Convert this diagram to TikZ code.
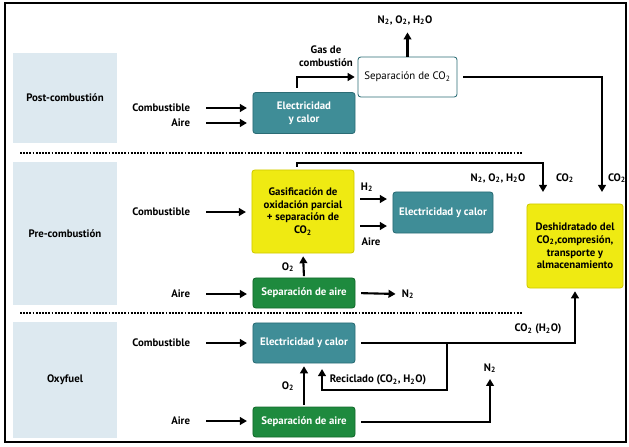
\documentclass[tikz,border=0pt]{standalone}
\usepackage{fontspec}
\setmainfont{PT Sans}
\usetikzlibrary{arrows.meta, positioning}
\definecolor{tealbox}{HTML}{3F8D97}
\definecolor{tealdark}{HTML}{2B6C75}
\definecolor{greenbox}{HTML}{1E8A3E}
\definecolor{greendark}{HTML}{146A2C}
\definecolor{yellowbox}{HTML}{EFEA12}
\definecolor{yellowdark}{HTML}{CFC900}
\definecolor{zonablue}{HTML}{DDE9F0}
\newcommand{\dos}{\textsubscript{2}}
\newcommand{\tam}{\fontsize{7.7}{9}\selectfont}

\begin{document}
\begin{tikzpicture}[x=0.025cm, y=-0.025cm, font=\tam\bfseries,
        arr/.style={-{Triangle[length=5pt,width=5.5pt]}, line width=1.5pt},
        zona/.style={fill=zonablue, minimum width=2.6cm, inner sep=0pt},
        caja/.style={draw, rounded corners=2pt, align=center, inner sep=1pt, line width=0.6pt},
        tealcaja/.style={caja, fill=tealbox, draw=tealdark, text=white},
        greencaja/.style={caja, fill=greenbox, draw=greendark, text=white},
        yellowcaja/.style={caja, fill=yellowbox, draw=yellowdark},
        puntos/.style={line width=1.6pt, dash pattern=on 1.3pt off 0.95pt},
      ]
        \useasboundingbox (0,0) rectangle (629,446);
        \draw[line width=1.5pt] (5,3) rectangle (626,442);

        % zonas
        \node[zona, minimum height=2.25cm] (zpost) at (65,98) {Post-combustión};
        \node[zona, minimum height=3.575cm] (zpre) at (65,233.5) {Pre-combustión};
        \node[zona, minimum height=2.875cm] (zoxy) at (65,380) {Oxyfuel};

        \draw[puntos] (20,153) -- (522,153);
        \draw[puntos] (20,313) -- (522,313);

        % Post-combustion
        \node[tealcaja, minimum width=2.55cm, minimum height=1.025cm] (elecA) at (304,113) {Electricidad\\y calor};
        \node[caja, fill=white, draw=tealdark, font=\tam, minimum width=2.475cm, minimum height=1cm] (sepco) at (407.5,77) {Separación de CO\dos};
        \node (outA) at (405,20) {N\dos, O\dos, H\dos O};
        \node[align=center] (gasA) at (326,56) {Gas de\\combustión};
        \node[anchor=east] (cbA) at (195,108) {Combustible};
        \node[anchor=east] (aiA) at (195,123) {Aire};
        \coordinate (gasB) at (297,88);
        \coordinate (co2R) at (602,192);
        \node (co2Rl) at (617,178) {CO\dos};

        \draw[arr, shorten <=8pt, shorten >=4pt] (cbA.east) -- (cbA.east -| elecA.west);
        \draw[arr, shorten <=8pt, shorten >=4pt] (aiA.east) -- (aiA.east -| elecA.west);
        \draw[arr, shorten <=3pt, shorten >=2pt] (elecA.north -| gasB) |- (sepco.west);
        \draw[arr, shorten >=2pt] (sepco.north) -- (sepco.north |- outA.south);
        \draw[arr, shorten <=4pt] (sepco.east) -| (co2R);

        % Pre-combustion
        \node[yellowcaja, minimum width=2.55cm, minimum height=2.075cm] (gasif) at (303,211.5) {Gasificación de\\oxidación parcial\\+ separación de\\CO\dos};
        \node[tealcaja, minimum width=2.5cm, minimum height=1.025cm] (elecB) at (443,212.5) {Electricidad y calor};
        \node[greencaja, minimum width=2.55cm, minimum height=0.75cm] (aireB) at (304,293) {Separación de aire};
        \node[yellowcaja, minimum width=2.4cm, minimum height=2.1cm] (deshid) at (575,246) {Deshidratado del\\CO\dos,compresión,\\transporte y\\almacenamiento};
        \node[anchor=east] (cbB) at (195,212) {Combustible};
        \node[anchor=east] (aiB) at (195,294) {Aire};
        \node (h2) at (367,187) {H\dos};
        \node (aiH) at (371,242) {Aire};
        \node (o2B) at (288,267) {O\dos};
        \node (n2B) at (408,294) {N\dos};
        \node (outB) at (498,178) {N\dos, O\dos, H\dos O};
        \node (co2Ml) at (565,178) {CO\dos};
        \coordinate (preTop) at (297,163);
        \coordinate (co2M) at (543,192);
        \coordinate (h2y) at (374,199);
        \coordinate (aiy) at (374,226);

        \draw[arr, shorten <=8pt, shorten >=4pt] (cbB.east) -- (cbB.east -| gasif.west);
        \draw[arr, shorten <=8pt, shorten >=4pt] (aiB.east) -- (aiB.east -| aireB.west);
        \draw[arr, shorten <=2pt] (gasif.north -| preTop) -- (preTop) -| (co2M);
        \draw[arr, shorten <=4pt, shorten >=4pt] (gasif.east |- h2y) -- (elecB.west |- h2y);
        \draw[arr, shorten <=4pt, shorten >=4pt] (gasif.east |- aiy) -- (elecB.west |- aiy);
        \draw[arr, shorten <=1pt, shorten >=2pt] (aireB.north) -- (gasif.south);
        \draw[arr, shorten <=4pt, shorten >=1pt] (aireB.east) -- (n2B.west);

        % Oxyfuel
        \node[tealcaja, minimum width=2.55cm, minimum height=1cm] (elecC) at (304,343) {Electricidad y calor};
        \node[greencaja, minimum width=2.55cm, minimum height=0.75cm] (aireC) at (304,422) {Separación de aire};
        \node[anchor=east] (cbC) at (195,343) {Combustible};
        \node[anchor=east] (aiC) at (195,421) {Aire};
        \node (o2C) at (288,386) {O\dos};
        \node (n2C) at (490,368) {N\dos};
        \node (co2C) at (538,329) {CO\dos\ (H\dos O)};
        \node (recl) at (378,380) {Reciclado (CO\dos, H\dos O)};
        \coordinate (junta) at (447,343);
        \coordinate (recB) at (322,390);

        \draw[arr, shorten <=8pt, shorten >=4pt] (cbC.east) -- (cbC.east -| elecC.west);
        \draw[arr, shorten <=8pt, shorten >=4pt] (aiC.east) -- (aiC.east -| aireC.west);
        \draw[arr, shorten <=4pt, shorten >=2pt] (elecC.east) -| (deshid.south);
        \draw[arr, shorten >=4pt] (junta) |- (recB) -- (recB |- elecC.south);
        \draw[arr, shorten <=1pt, shorten >=2pt] (aireC.north) -- (elecC.south);
        \draw[arr, shorten <=4pt, shorten >=1pt] (aireC.east) -| (n2C.south);
      \end{tikzpicture}
\end{document}
